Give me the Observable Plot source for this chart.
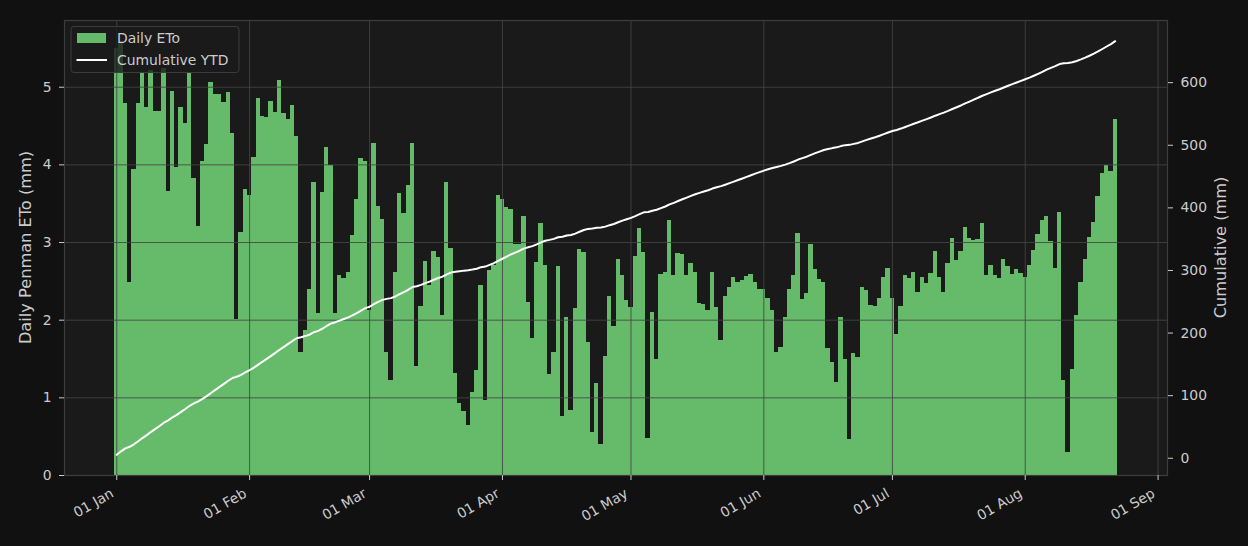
<!DOCTYPE html>
<html>
<head>
<meta charset="utf-8">
<script src="https://cdn.jsdelivr.net/npm/d3@7"></script>
<script src="https://cdn.jsdelivr.net/npm/@observablehq/plot@0.6"></script>
<style>
  html, body { margin: 0; padding: 0; background: #111111; }
  #chart { width: 1248px; height: 546px; }
  #chart svg { display: block; font-family: 'DejaVu Sans', sans-serif !important; }
  #chart svg text { font-family: 'DejaVu Sans', sans-serif !important; }
</style>
</head>
<body>
<div id="chart"></div>
<script>
// ---- data (daily Penman ETo, mm) ----
const year = 2023;
const janETo = [5.50, 5.58, 4.79, 2.49, 3.94, 4.79, 5.18, 4.74, 5.22, 4.69, 4.69, 5.24, 3.66, 4.94, 3.96, 4.74, 4.53, 5.18, 3.82, 3.21, 4.04, 4.26, 5.06, 4.91, 4.91, 4.80, 4.93, 4.40, 2.01, 3.13, 3.68];
const febETo = [3.61, 4.09, 4.85, 4.62, 4.61, 4.82, 4.67, 5.08, 4.66, 4.58, 4.76, 4.36, 1.59, 1.87, 2.40, 3.77, 2.09, 3.64, 4.22, 3.99, 2.09, 2.57, 2.54, 2.61, 3.09, 3.56, 4.08, 4.04];
const marETo = [2.12, 4.27, 3.46, 3.30, 1.58, 1.22, 2.62, 3.63, 3.37, 3.73, 4.27, 1.40, 2.17, 2.75, 2.45, 2.88, 2.81, 2.06, 3.77, 2.92, 1.31, 0.93, 0.83, 0.64, 1.07, 1.35, 2.45, 0.97, 2.64, 2.70, 3.61];
const aprETo = [3.55, 3.45, 3.42, 2.98, 2.98, 3.33, 2.23, 1.76, 2.74, 3.24, 2.70, 1.30, 1.58, 2.69, 0.76, 2.04, 0.84, 2.15, 2.91, 2.87, 1.71, 0.55, 1.18, 0.40, 1.53, 2.30, 1.92, 2.78, 2.58, 2.25];
const mayETo = [2.16, 2.82, 3.18, 2.87, 0.48, 2.10, 1.50, 2.59, 2.61, 3.29, 2.58, 2.86, 2.84, 2.58, 2.73, 2.61, 2.21, 2.20, 2.13, 2.61, 2.16, 1.74, 2.30, 2.42, 2.55, 2.48, 2.51, 2.56, 2.59, 2.48, 2.39];
const junETo = [2.39, 2.28, 2.12, 1.59, 1.65, 2.03, 2.39, 2.57, 3.11, 2.26, 2.34, 2.97, 2.65, 2.52, 2.48, 1.63, 1.46, 1.20, 2.03, 1.50, 0.46, 1.57, 1.52, 2.42, 2.38, 2.19, 2.18, 2.28, 2.55, 2.66];
const julETo = [2.28, 1.81, 2.18, 2.57, 2.54, 2.61, 2.36, 2.55, 2.47, 2.60, 2.88, 2.55, 2.36, 2.73, 3.05, 2.77, 2.88, 3.19, 3.05, 3.03, 3.04, 3.24, 2.58, 2.71, 2.58, 2.54, 2.78, 2.69, 2.59, 2.65, 2.60];
const augETo = [2.55, 2.70, 2.90, 3.10, 3.28, 3.33, 3.01, 2.66, 3.39, 1.22, 0.29, 1.36, 2.06, 2.49, 2.78, 3.06, 3.26, 3.59, 3.89, 3.99, 3.92, 4.58];

const monthTickDates = ["2023-01-01", "2023-02-01", "2023-03-01", "2023-04-01", "2023-05-01", "2023-06-01", "2023-07-01", "2023-08-01", "2023-09-01"];
const monthTickLabels = ["01 Jan", "01 Feb", "01 Mar", "01 Apr", "01 May", "01 Jun", "01 Jul", "01 Aug", "01 Sep"];
const leftTicks = [0, 1, 2, 3, 4, 5];
const rightTicks = [0, 100, 200, 300, 400, 500, 600];
const seriesNames = ["Daily ETo", "Cumulative YTD"];
const leftLabel = "Daily Penman ETo (mm)";
const rightLabel = "Cumulative (mm)";

// ---- build table ----
const eto = [].concat(janETo, febETo, marETo, aprETo, mayETo, junETo, julETo, augETo);
const DAY = 864e5;
const t0 = Date.UTC(year, 0, 1);
let running = 0;
const rows = eto.map((v, i) => {
  running += v;
  const t = t0 + i * DAY;
  return { date: new Date(t), start: new Date(t - DAY / 2), end: new Date(t + DAY / 2), eto: v, cum: running };
});
const n = rows.length;
const xLo = t0 - DAY / 2, xHi = t0 + (n - 1) * DAY + DAY / 2;
const xPad = 0.05 * (xHi - xLo);
const yMax = d3.max(eto) * 1.05;
const cMin = d3.min(rows, d => d.cum), cMax = d3.max(rows, d => d.cum);
const cPad = 0.05 * (cMax - cMin);
const rLo = cMin - cPad, rHi = cMax + cPad;
const toLeft = c => (c - rLo) / (rHi - rLo) * yMax;
const fromLeft = v => rLo + v / yMax * (rHi - rLo);
const tickDates = monthTickDates.map(s => new Date(s + "T00:00:00Z"));

const W = 1248, H = 546;
const mL = 64, mR = 81, mT = 20, mB = 71;
const txt = "#cccccc";
const gridColor = "#444444";
const FONT = "'DejaVu Sans', sans-serif";
const FS = 13.9;

const plot = Plot.plot({
  width: W, height: H,
  marginLeft: mL, marginRight: mR, marginTop: mT, marginBottom: mB,
  style: { background: "transparent", fontFamily: FONT, fontSize: FS + "px", color: txt },
  x: { type: "utc", domain: [new Date(xLo - xPad), new Date(xHi + xPad)], axis: null },
  y: { domain: [0, yMax], axis: null },
  marks: [
    Plot.frame({ fill: "#1a1a1a" }),
    Plot.rectY(rows, { x1: "start", x2: "end", y: "eto", fill: "#66bb6a", shapeRendering: "crispEdges" }),
    Plot.gridX({ ticks: tickDates, stroke: gridColor, strokeOpacity: 0.85, strokeWidth: 1 }),
    Plot.gridY({ ticks: leftTicks, stroke: gridColor, strokeOpacity: 0.85, strokeWidth: 1 }),
    Plot.lineY(rows, { x: "date", y: d => toLeft(d.cum), stroke: "#ffffff", strokeWidth: 2 }),
    Plot.frame({ stroke: "#3c3c3c", strokeWidth: 1.2 }),
    Plot.axisY({ ticks: leftTicks, tickFormat: d => String(d), tickSize: 5, tickPadding: 8, label: null, color: txt, fontSize: FS, fontFamily: FONT }),
    Plot.axisY({ anchor: "right", ticks: rightTicks.map(toLeft), tickFormat: v => String(Math.round(fromLeft(v))), tickSize: 5, tickPadding: 8, label: null, color: txt, fontSize: FS, fontFamily: FONT }),
    Plot.axisX({ ticks: tickDates, tickFormat: () => "", tickSize: 5, label: null, color: txt }),
    Plot.text(tickDates, { x: d => d, frameAnchor: "bottom", text: (d, i) => monthTickLabels[i], rotate: -30, textAnchor: "end", lineAnchor: "top", dx: -7, dy: 12, fill: txt, fontSize: FS, fontFamily: FONT })
  ]
});

document.getElementById("chart").appendChild(plot);

// ---- axis titles and legend ----
const svg = d3.select(plot);
const midY = (mT + H - mB) / 2;
svg.append("text")
  .attr("transform", `translate(25,${midY}) rotate(-90)`)
  .attr("text-anchor", "middle").attr("dy", "0.35em")
  .attr("font-family", FONT).attr("fill", txt).attr("font-size", 16.2).text(leftLabel);
svg.append("text")
  .attr("transform", `translate(1220.5,${midY}) rotate(-90)`)
  .attr("text-anchor", "middle").attr("dy", "0.35em")
  .attr("font-family", FONT).attr("fill", txt).attr("font-size", 16.2).text(rightLabel);

const lg = svg.append("g");
lg.append("rect").attr("x", 71).attr("y", 26.5).attr("width", 168).attr("height", 46).attr("rx", 3)
  .attr("fill", "#1a1a1a").attr("fill-opacity", 0.8).attr("stroke", "#3c3c3c");
lg.append("rect").attr("x", 77).attr("y", 33).attr("width", 29).attr("height", 10).attr("fill", "#66bb6a");
lg.append("line").attr("x1", 76.5).attr("x2", 107).attr("y1", 60).attr("y2", 60).attr("stroke", "#ffffff").attr("stroke-width", 2);
lg.append("text").attr("x", 117).attr("y", 38).attr("dy", "0.35em").attr("text-anchor", "start")
  .attr("font-family", FONT).attr("fill", txt).attr("font-size", FS).text(seriesNames[0]);
lg.append("text").attr("x", 117).attr("y", 60).attr("dy", "0.35em").attr("text-anchor", "start")
  .attr("font-family", FONT).attr("fill", txt).attr("font-size", FS).text(seriesNames[1]);
</script>
</body>
</html>
